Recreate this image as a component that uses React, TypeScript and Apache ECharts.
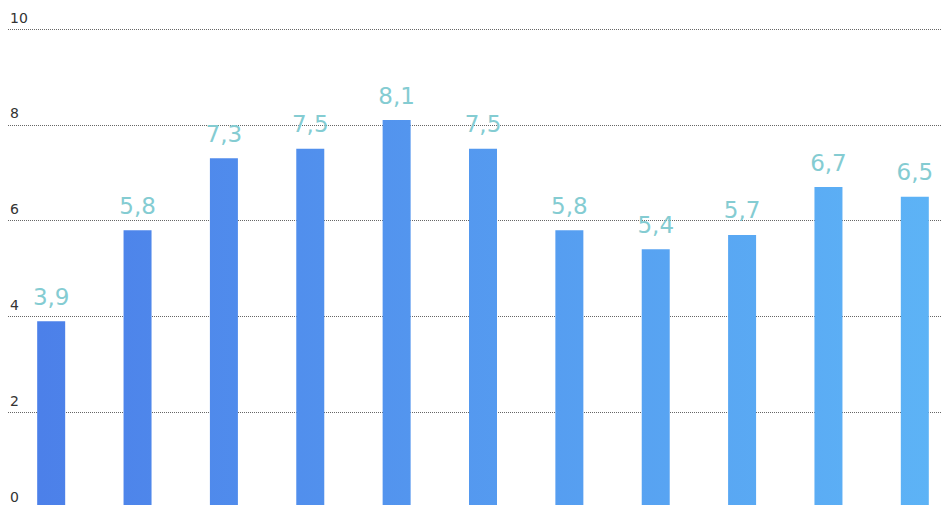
import React, { useEffect, useRef } from "react";
import * as echarts from "echarts";

const categories = ["1", "2", "3", "4", "5", "6", "7", "8", "9", "10", "11"];
const values = [3.9, 5.8, 7.3, 7.5, 8.1, 7.5, 5.8, 5.4, 5.7, 6.7, 6.5];
const yTicks = [0, 2, 4, 6, 8, 10];

export default function App() {
  const ref = useRef<HTMLDivElement>(null);
  useEffect(() => {
    if (!ref.current) return;
    const chart = echarts.init(ref.current, undefined, { renderer: "svg" });
    chart.setOption({
      animation: false,
      grid: { left: 8, right: 0, top: 29, bottom: 0, containLabel: false },
      xAxis: {
        type: "category",
        data: categories,
        axisLine: { show: false },
        axisTick: { show: false },
        axisLabel: { show: false },
        splitLine: { show: false },
      },
      yAxis: {
        type: "value",
        min: yTicks[0],
        max: yTicks[yTicks.length - 1],
        interval: 2,
        axisLine: { show: false },
        axisTick: { show: false },
        axisLabel: {
          inside: true,
          margin: 2,
          align: "left",
          verticalAlign: "bottom",
          lineHeight: 15,
          padding: [0, 0, 4, 0],
          color: "#333",
          fontSize: 14,
          fontFamily: "DejaVu Sans",
        },
        splitLine: {
          show: true,
          lineStyle: { type: "dotted", color: "#666", width: 1 },
        },
      },
      series: [
        {
          type: "bar",
          data: values,
          barWidth: 28,
          itemStyle: {
            color: new echarts.graphic.LinearGradient(
              37,
              0,
              930,
              0,
              [
                { offset: 0, color: "#4c80e9" },
                { offset: 1, color: "#5db3f6" },
              ],
              true
            ),
          },
          label: {
            show: true,
            position: "top",
            distance: 13,
            color: "#84ccd2",
            fontSize: 23,
            fontFamily: "DejaVu Sans",
            formatter: (p: any) => p.value.toFixed(1).replace(".", ","),
          },
        },
      ],
    });
    return () => chart.dispose();
  }, []);
  return (
    <div
      ref={ref}
      style={{ position: "fixed", top: 0, left: 0, width: 958, height: 508, background: "#fff" }}
    />
  );
}
